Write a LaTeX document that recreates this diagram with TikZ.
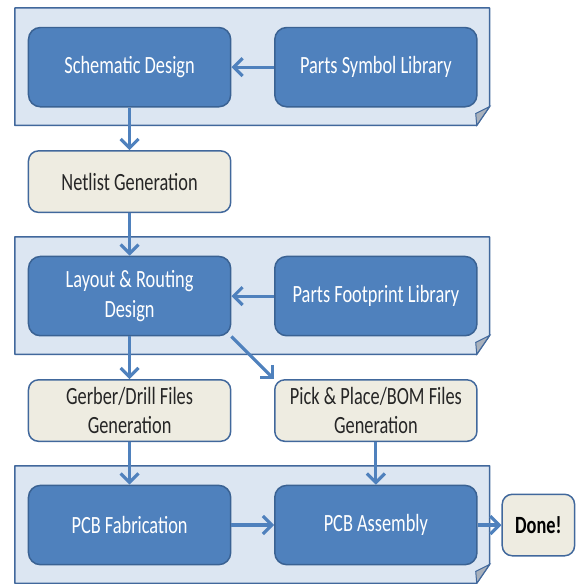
\documentclass[tikz,border=0pt]{standalone}
\usepackage{fontspec}
\setmainfont[FakeStretch=0.74]{Carlito}
\usepackage{xcolor}
\usepackage{tikz}
\usetikzlibrary{arrows.meta,positioning,calc,backgrounds}

\definecolor{boxblue}{HTML}{4F81BD}
\definecolor{boxedge}{HTML}{3A6293}
\definecolor{panelfill}{HTML}{DCE6F2}
\definecolor{paneledge}{HTML}{41689C}
\definecolor{notefill}{HTML}{EEECE1}
\definecolor{foldgray}{HTML}{A9B1BC}

\begin{document}
\begin{tikzpicture}[
    x=1pt, y=1pt,
    node distance=43pt and 43pt,
    box1/.style={rectangle, draw=boxedge, fill=boxblue, line width=1.5pt, rounded corners=12pt, align=center, minimum height=80pt, minimum width=204pt, text=white, font=\fontsize{25}{30}\selectfont},
    box2/.style={rectangle, draw=paneledge, fill=notefill, line width=1.5pt, rounded corners=10pt, align=center, minimum height=62pt, minimum width=204pt, inner sep=2pt, text=black!85, font=\fontsize{25}{30}\selectfont},
    box3/.style={box2, minimum width=73pt, text=black, font=\fontsize{25}{30}\selectfont\bfseries},
    panel/.style={draw=paneledge, fill=panelfill, line width=1.5pt, line join=round},
    arrow/.style={-{Straight Barb[length=9pt,width=18pt]}, line width=3.2pt, draw=boxblue}
]
    \node [box1] (sch) {Schematic Design};
    \node [box1, right=of sch] (sym) {Parts Symbol Library};
    \node [box2, below=of sch] (net) {Netlist Generation};
    \node [box1, below=of net] (lay) {Layout \& Routing\\Design};
    \node [box1, right=of lay] (fp) {Parts Footprint Library};
    \node [box2, below=of lay] (gerb) {Gerber/Drill Files\\Generation};
    \node [box2, right=of gerb] (pnp) {Pick \& Place/BOM Files\\Generation};
    \node [box1, below=of gerb] (fab) {PCB Fabrication};
    \node [box1, right=of fab] (asm) {PCB Assembly};
    \node [box3, right=24pt of asm] (done) {Done!};

    % panels with a turned-down corner behind each row
    \begin{scope}[on background layer]
    \foreach \l/\r in {sch/sym, lay/fp, fab/asm} {
        \coordinate (nw) at ($(\l.north west)+(-13,19)$);
        \coordinate (se) at ($(\r.south east)+(12,-18)$);
        \draw [panel] (nw) -- (nw -| se) -- ($(se)+(0,19)$) -- ($(se)+(-13,0)$) -- (nw |- se) -- cycle;
        \filldraw [fill=foldgray, draw=paneledge, line width=1pt] ($(se)+(0,19)$) -- ($(se)+(-14,12)$) -- ($(se)+(-13,0)$) -- cycle;
    }
    \end{scope}

    \draw [arrow] (sym) -- (sch);
    \draw [arrow] (sch) -- (net);
    \draw [arrow] (net) -- (lay);
    \draw [arrow] (fp) -- (lay);
    \draw [arrow] (lay) -- (gerb);
    \draw [arrow] (lay.south east) -- (pnp.north west);
    \draw [arrow] (gerb) -- (fab);
    \draw [arrow] (pnp) -- (asm);
    \draw [arrow] (fab) -- (asm);
    \draw [arrow] (asm) -- (done);

    \useasboundingbox ($(sch.north west)+(-28,27)$) rectangle ++(581,-584);
\end{tikzpicture}
\end{document}
